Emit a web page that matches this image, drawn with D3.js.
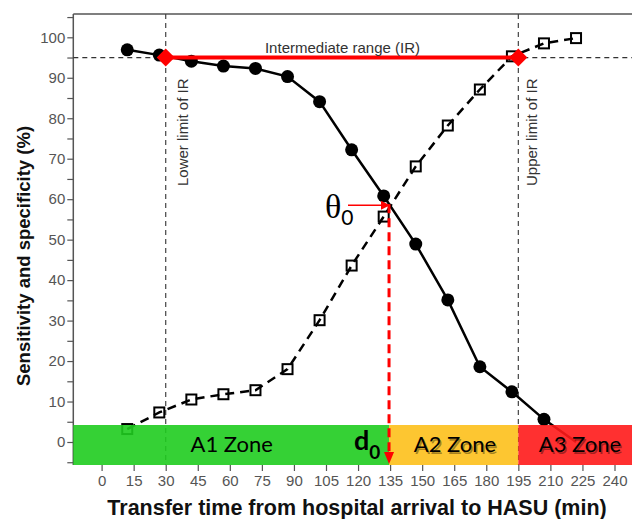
<!DOCTYPE html>
<html>
<head>
<meta charset="utf-8">
<script src="https://cdn.jsdelivr.net/npm/d3@7"></script>
<style>
  body { margin: 0; background: #fff; }
  svg { display: block; font-family: "Liberation Sans", Arial, sans-serif; }
</style>
</head>
<body>
<div id="chart"></div>
<script>
// data
const times = [12, 27, 42, 57, 72, 87, 102, 117, 132, 147, 162, 177, 192, 207, 222];
const sensitivity = [96.9, 95.6, 94.1, 92.9, 92.3, 90.3, 84.1, 72.2, 60.8, 48.9, 35.1, 18.6, 12.4, 5.6, 0];
const specificity = [3.2, 7.3, 10.5, 11.8, 12.8, 18.0, 30.1, 43.6, 55.7, 68.1, 78.2, 87.1, 95.3, 98.5, 99.8];
const xTicks = d3.range(0, 241, 15);
const yTicks = d3.range(-5, 106, 5);
const irLimits = [30, 195];
const irLevel = 95;
const d0 = 134.5;
const theta0 = 58.5;
const zones = [
  { name: "A1 Zone", from: -14, to: d0 },
  { name: "A2 Zone", from: d0, to: 195 },
  { name: "A3 Zone", from: 195, to: 250 }
];
const zoneTop = 4.2;

const width = 632, height = 519;
const svg = d3.select("#chart").append("svg")
  .attr("width", width)
  .attr("height", height);

const x = d3.scaleLinear().domain([0, 240]).range([101.6, 614.5]);
const y = d3.scaleLinear().domain([0, 100]).range([442, 37.3]);

const plotLeft = 73.3, plotTop = 14, plotBottom = 465, plotRight = width;

// frame
svg.append("line")
  .attr("x1", plotLeft).attr("x2", plotRight)
  .attr("y1", plotTop).attr("y2", plotTop)
  .attr("stroke", "#555").attr("stroke-width", 1.5);
svg.append("line")
  .attr("x1", plotLeft).attr("x2", plotLeft)
  .attr("y1", plotTop).attr("y2", plotBottom)
  .attr("stroke", "#555").attr("stroke-width", 1.5);

// y axis
const yAxis = svg.append("g")
  .attr("transform", `translate(${plotLeft},0)`)
  .call(d3.axisLeft(y).tickValues(yTicks).tickSize(6).tickPadding(2)
    .tickFormat(d => d % 10 === 0 && d >= 0 && d <= 100 ? d : ""));
yAxis.select(".domain").remove();
yAxis.selectAll(".tick line").attr("stroke", "#555").attr("stroke-width", 1.2);
yAxis.selectAll(".tick text")
  .attr("fill", "#555")
  .style("font-size", "15px")
  .style("font-family", "Liberation Sans, Arial, sans-serif");

// x axis
const xAxis = svg.append("g")
  .attr("transform", `translate(0,${plotBottom})`)
  .call(d3.axisBottom(x).tickValues(xTicks).tickSize(6).tickPadding(4));
xAxis.select(".domain").remove();
xAxis.selectAll(".tick line").attr("stroke", "#555").attr("stroke-width", 1.2);
xAxis.selectAll(".tick text")
  .attr("fill", "#555")
  .style("font-size", "15px")
  .style("font-family", "Liberation Sans, Arial, sans-serif");

// dashed reference lines
svg.append("line")
  .attr("x1", plotLeft).attr("x2", plotRight)
  .attr("y1", y(irLevel)).attr("y2", y(irLevel))
  .attr("stroke", "#333").attr("stroke-width", 1.2)
  .attr("stroke-dasharray", "5,4");
svg.selectAll(".vlim")
  .data(irLimits)
  .join("line")
  .attr("class", "vlim")
  .attr("x1", d => x(d)).attr("x2", d => x(d))
  .attr("y1", plotTop).attr("y2", plotBottom)
  .attr("stroke", "#444").attr("stroke-width", 1.2)
  .attr("stroke-dasharray", "5,4");

// curves
const sensData = times.map((t, i) => ({ t, v: sensitivity[i] }));
const specData = times.map((t, i) => ({ t, v: specificity[i] }));
const line = d3.line().x(d => x(d.t)).y(d => y(d.v));

svg.append("path")
  .datum(sensData)
  .attr("d", line)
  .attr("fill", "none")
  .attr("stroke", "#000")
  .attr("stroke-width", 2.5);

svg.append("path")
  .datum(specData)
  .attr("d", line)
  .attr("fill", "none")
  .attr("stroke", "#000")
  .attr("stroke-width", 2.5)
  .attr("stroke-dasharray", "9,6");

svg.selectAll(".sens")
  .data(sensData.filter(d => d.v > 0))
  .join("circle")
  .attr("class", "sens")
  .attr("cx", d => x(d.t))
  .attr("cy", d => y(d.v))
  .attr("r", 6.5)
  .attr("fill", "#000");

svg.selectAll(".spec")
  .data(specData)
  .join("rect")
  .attr("class", "spec")
  .attr("x", d => x(d.t) - 5)
  .attr("y", d => y(d.v) - 5)
  .attr("width", 10)
  .attr("height", 10)
  .attr("fill", "none")
  .attr("stroke", "#000")
  .attr("stroke-width", 2);

// zones
const zoneColor = d3.scaleOrdinal()
  .domain(zones.map(d => d.name))
  .range(["#1fcc1f", "#fdc01b", "#ff1a1a"]);

svg.selectAll(".zone")
  .data(zones)
  .join("rect")
  .attr("class", "zone")
  .attr("x", d => Math.max(plotLeft, x(d.from)))
  .attr("width", d => Math.min(plotRight, x(d.to)) - Math.max(plotLeft, x(d.from)))
  .attr("y", y(zoneTop))
  .attr("height", plotBottom - y(zoneTop))
  .attr("fill", d => zoneColor(d.name))
  .attr("fill-opacity", 0.9);

const labelX = [231.7, 455, 580];

svg.selectAll(".zshadow")
  .data(zones.slice(1))
  .join("text")
  .attr("class", "zshadow")
  .attr("x", (d, i) => labelX[i + 1] + 1.5)
  .attr("y", 453.5)
  .attr("text-anchor", "middle")
  .attr("fill", "#000")
  .attr("fill-opacity", 0.35)
  .style("font-family", "Lato, 'Open Sans', sans-serif")
  .style("font-size", "22px")
  .text(d => d.name);

svg.selectAll(".zlabel")
  .data(zones)
  .join("text")
  .attr("class", "zlabel")
  .attr("x", (d, i) => labelX[i])
  .attr("y", 452)
  .attr("text-anchor", "middle")
  .attr("fill", "#000")
  .style("font-family", "Lato, 'Open Sans', sans-serif")
  .style("font-size", "22px")
  .text(d => d.name);

// intermediate range
svg.append("line")
  .attr("x1", x(irLimits[0])).attr("x2", x(irLimits[1]))
  .attr("y1", y(irLevel)).attr("y2", y(irLevel))
  .attr("stroke", "#ff0000").attr("stroke-width", 4);

svg.selectAll(".diamond")
  .data(irLimits)
  .join("path")
  .attr("class", "diamond")
  .attr("transform", d => `translate(${x(d)},${y(irLevel)})`)
  .attr("d", "M0,-9L9,0L0,9L-9,0Z")
  .attr("fill", "#ff0000");

svg.append("text")
  .attr("x", 342.5)
  .attr("y", 53)
  .attr("text-anchor", "middle")
  .attr("fill", "#333")
  .style("font-size", "15px")
  .text("Intermediate range (IR)");

svg.append("text")
  .attr("transform", `translate(${x(irLimits[0]) + 22},186) rotate(-90)`)
  .attr("fill", "#333")
  .style("font-size", "15px")
  .text("Lower limit of IR");

svg.append("text")
  .attr("transform", `translate(${x(irLimits[1]) + 19},186) rotate(-90)`)
  .attr("fill", "#333")
  .style("font-size", "15px")
  .text("Upper limit of IR");

// d0 marker
const defs = svg.append("defs");
defs.append("marker")
  .attr("id", "arrowRed")
  .attr("viewBox", "0 0 10 10")
  .attr("refX", 9).attr("refY", 5)
  .attr("markerWidth", 6).attr("markerHeight", 6)
  .attr("markerUnits", "strokeWidth")
  .attr("orient", "auto")
  .append("path")
  .attr("d", "M0,0L10,5L0,10Z")
  .attr("fill", "#ff0000");

svg.append("line")
  .attr("x1", x(d0)).attr("x2", x(d0))
  .attr("y1", y(theta0) - 1).attr("y2", 453)
  .attr("stroke", "#ff0000").attr("stroke-width", 3)
  .attr("stroke-dasharray", "9,5");
svg.append("path")
  .attr("d", `M${x(d0) - 5},452L${x(d0) + 5},452L${x(d0)},464Z`)
  .attr("fill", "#ff0000");

svg.append("line")
  .attr("x1", 348).attr("x2", x(d0))
  .attr("y1", y(theta0)).attr("y2", y(theta0))
  .attr("stroke", "#ff0000").attr("stroke-width", 1.5)
  .attr("marker-end", "url(#arrowRed)");

const theta = svg.append("text")
  .attr("x", 325)
  .attr("y", 218)
  .style("font-family", "'Liberation Serif', 'DejaVu Serif', serif")
  .style("font-size", "34px")
  .attr("fill", "#000");
theta.append("tspan").text("θ");
theta.append("tspan").attr("dy", 7)
  .style("font-family", "Lato, 'Open Sans', sans-serif")
  .style("font-size", "21px").text("0");

const dlab = svg.append("text")
  .attr("x", 354)
  .attr("y", 450)
  .style("font-family", "Lato, 'Open Sans', sans-serif")
  .style("font-weight", "bold")
  .style("font-size", "27px")
  .attr("fill", "#000");
dlab.append("tspan").text("d");
dlab.append("tspan").attr("dy", 9).style("font-size", "19px").text("0");

// axis titles
svg.append("text")
  .attr("x", 357)
  .attr("y", 515)
  .attr("text-anchor", "middle")
  .style("font-weight", "bold")
  .style("font-size", "21.5px")
  .attr("fill", "#111")
  .text("Transfer time from hospital arrival to HASU (min)");

svg.append("text")
  .attr("transform", "translate(30,256) rotate(-90)")
  .attr("text-anchor", "middle")
  .style("font-weight", "bold")
  .style("font-size", "18.5px")
  .attr("fill", "#111")
  .text("Sensitivity and specificity (%)");
</script>
</body>
</html>
